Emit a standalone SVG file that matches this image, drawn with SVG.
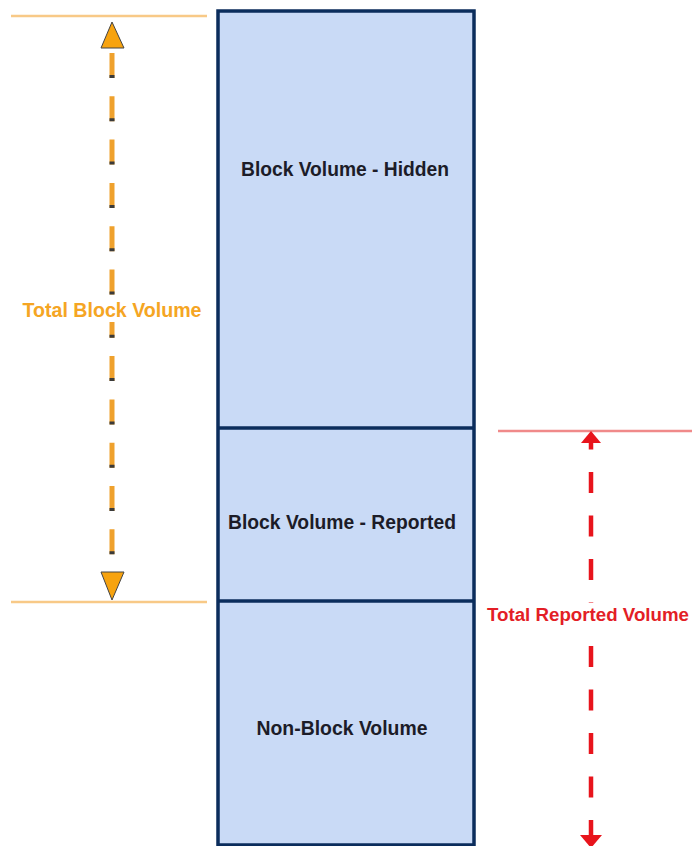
<svg xmlns="http://www.w3.org/2000/svg" width="696" height="846" viewBox="0 0 696 846">
<style>
.box{fill:#c9daf6;stroke:#0b2d5c;stroke-width:3.5}
.div{stroke:#0b2d5c;stroke-width:3.5}
.lbl{font-family:"Liberation Sans Narrow","Liberation Sans",Arial,sans-serif;font-weight:bold;font-size:20px;text-anchor:middle}
.dark{fill:#1c1c28}
.org{fill:#f5a523}
.red{fill:#e31e26;font-size:18px}
</style>
<rect width="696" height="846" fill="#ffffff"/>
<g id="column">
<rect class="box" x="218" y="11" width="256" height="834"/>
</g>
<g id="hidden">
<text class="lbl dark" x="345" y="176" textLength="208" lengthAdjust="spacingAndGlyphs">Block Volume - Hidden</text>
</g>
<g id="reported">
<line class="div" x1="218" y1="428" x2="474" y2="428"/>
<text class="lbl dark" x="342" y="529" textLength="228" lengthAdjust="spacingAndGlyphs">Block Volume - Reported</text>
</g>
<g id="nonblock">
<line class="div" x1="218" y1="601" x2="474" y2="601"/>
<text class="lbl dark" x="342" y="735" textLength="171" lengthAdjust="spacingAndGlyphs">Non-Block Volume</text>
</g>
<g id="connectors">
<line x1="11" y1="16" x2="207" y2="16" stroke="#f8c987" stroke-width="2.5"/>
<line x1="11" y1="602" x2="207" y2="602" stroke="#f8c987" stroke-width="2.5"/>
<line x1="112" y1="53" x2="112" y2="570" stroke="#efa12d" stroke-width="5" stroke-dasharray="25 18.3"/>
<line x1="112" y1="53" x2="112" y2="570" stroke="#3a3a3a" stroke-width="5" stroke-dasharray="0 22 3 18.3"/>
<polygon points="112,22 124,48 101,48" fill="#f7a30f" stroke="#444" stroke-width="1"/>
<polygon points="101,572 124,572 112,600" fill="#f7a30f" stroke="#444" stroke-width="1"/>
<line x1="498" y1="431" x2="692" y2="431" stroke="#f08a8a" stroke-width="2.5"/>
<line x1="591" y1="442" x2="591" y2="836" stroke="#e8141c" stroke-width="4.5" stroke-dasharray="21 22.5" stroke-dashoffset="13.5"/>
<polygon points="591,431 601,443 581,443" fill="#e8141c"/>
<polygon points="580,835 602,835 591,848" fill="#e8141c"/>
</g>
<g id="totalblock">
<rect x="20" y="300" width="184" height="22" fill="#ffffff"/>
<text class="lbl org" x="112" y="317" textLength="179" lengthAdjust="spacingAndGlyphs">Total Block Volume</text>
</g>
<g id="totalreported">
<rect x="484" y="603" width="208" height="24" fill="#ffffff"/>
<text class="lbl red" x="588" y="621" textLength="202" lengthAdjust="spacingAndGlyphs">Total Reported Volume</text>
</g>
</svg>
